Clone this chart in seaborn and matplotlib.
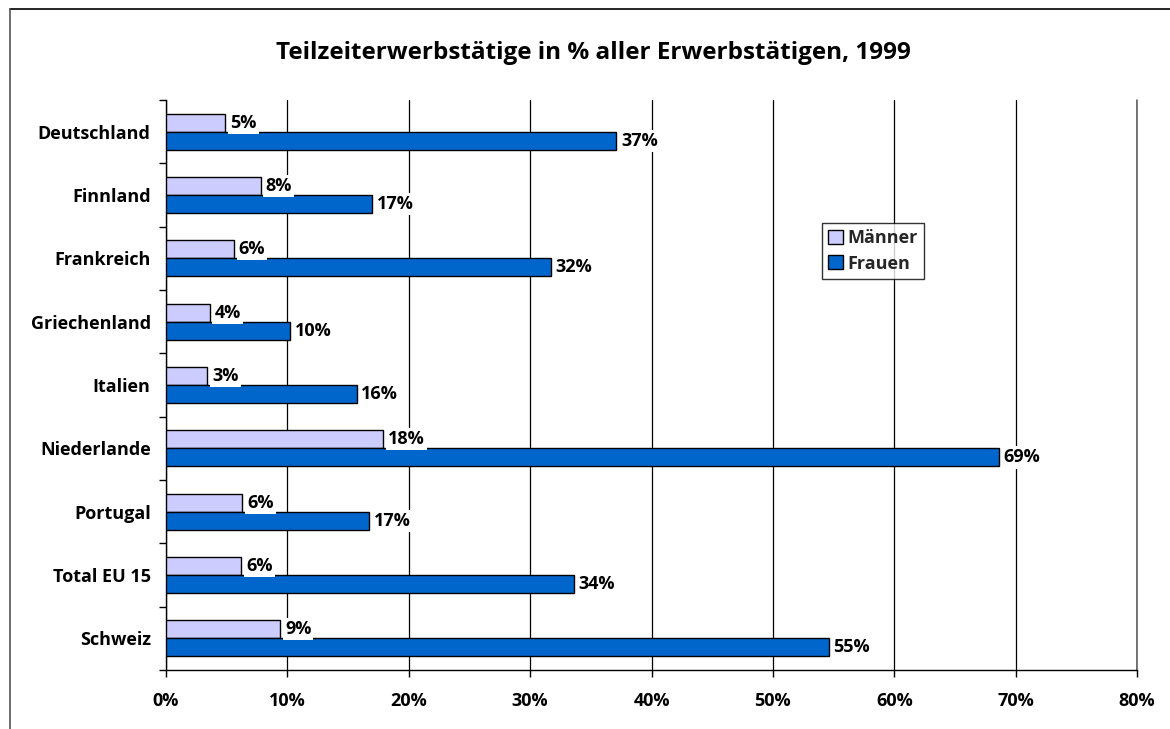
import matplotlib
matplotlib.use("Agg")
import matplotlib.pyplot as plt
from matplotlib.lines import Line2D
from matplotlib.ticker import FixedLocator, PercentFormatter
import seaborn as sns
import pandas as pd

countries = ["Deutschland", "Finnland", "Frankreich", "Griechenland", "Italien",
             "Niederlande", "Portugal", "Total EU 15", "Schweiz"]
maenner = [4.9, 7.8, 5.6, 3.6, 3.4, 17.9, 6.3, 6.2, 9.4]
frauen = [37.1, 17.0, 31.7, 10.2, 15.7, 68.6, 16.7, 33.6, 54.6]
series = ["Männer", "Frauen"]
colors = ["#CCCCFF", "#0066CC"]
title = "Teilzeiterwerbstätige in % aller Erwerbstätigen, 1999"

df = pd.DataFrame({
    "Land": countries * 2,
    "Wert": maenner + frauen,
    "Geschlecht": [series[0]] * len(countries) + [series[1]] * len(countries),
})

sns.set_theme(style="white")
plt.rcParams["font.family"] = ["Open Sans", "DejaVu Sans"]
plt.rcParams["font.weight"] = "bold"

FS = 13

fig = plt.figure(figsize=(11.7, 7.29), dpi=100)
ax = fig.add_axes([166/1170, 1-670/729, (1137-166)/1170, (670-100)/729])

sns.barplot(data=df, x="Wert", y="Land", hue="Geschlecht", order=countries,
            hue_order=series, palette=colors, orient="h", width=0.57,
            edgecolor="black", linewidth=1.0, ax=ax, zorder=3, saturation=1)

ax.set_xlim(0, 80)
ax.set_ylim(len(countries) - 0.5, -0.5)
ax.xaxis.set_major_locator(FixedLocator(range(0, 81, 10)))
ax.xaxis.set_major_formatter(PercentFormatter(decimals=0))
ax.grid(axis="x", color="black", linewidth=0.9, zorder=0)
ax.grid(axis="y", visible=False)
ax.set_axisbelow(True)
ax.axvline(80, color="#666666", linewidth=1.2, zorder=0, clip_on=False)
ax.set_xlabel("")
ax.set_ylabel("")

for s in ["top", "right"]:
    ax.spines[s].set_visible(False)
for s in ["left", "bottom"]:
    ax.spines[s].set_color("black")
    ax.spines[s].set_linewidth(1.0)

ax.yaxis.set_minor_locator(FixedLocator([i - 0.5 for i in range(len(countries) + 1)]))
ax.tick_params(axis="y", which="major", length=0, pad=11, labelsize=FS)
ax.tick_params(axis="y", which="minor", length=5, width=1, color="black", direction="out", left=True)
ax.tick_params(axis="x", which="major", length=5, width=1, color="black", direction="out",
               bottom=True, pad=11, labelsize=FS)
for lbl in ax.get_xticklabels() + ax.get_yticklabels():
    lbl.set_fontweight("bold")
    lbl.set_color("black")

# value labels
for cont, vals in zip(ax.containers, [maenner, frauen]):
    for bar, v in zip(cont, vals):
        y = bar.get_y() + bar.get_height() / 2
        ax.annotate(f"{round(v):.0f}%", xy=(bar.get_width(), y), xytext=(3.5, 0),
                    textcoords="offset points", ha="left", va="center",
                    fontsize=FS, fontweight="bold", color="black", zorder=5,
                    bbox=dict(boxstyle="square,pad=0.12", fc="white", ec="none"))

leg = ax.legend(loc="upper left", bbox_to_anchor=(822/1170, 1-223/729),
                bbox_transform=fig.transFigure, frameon=True, fancybox=False,
                prop={"weight": "bold", "size": FS}, handlelength=0.8, handleheight=0.8,
                handletextpad=0.25, borderpad=0.35, labelspacing=0.4, borderaxespad=0)
leg.get_frame().set_edgecolor("black")
leg.get_frame().set_linewidth(1.0)
leg.set_zorder(10)
for h in leg.legend_handles:
    h.set_edgecolor("black")
    h.set_linewidth(1.0)

fig.text(593/1170, 1-53/729, title, ha="center", va="center",
         fontsize=17.5, fontweight="bold", color="black")

# outer frame (top and left)
fig.add_artist(Line2D([10/1170, 1], [1-9/729, 1-9/729], transform=fig.transFigure,
                      color="black", linewidth=1.2))
fig.add_artist(Line2D([10/1170, 10/1170], [0, 1-9/729], transform=fig.transFigure,
                      color="#555555", linewidth=1.2))

fig.savefig("out.png", dpi=100)
